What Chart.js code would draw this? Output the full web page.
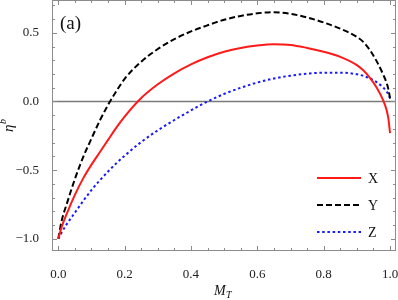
<!DOCTYPE html>
<html>
<head>
<meta charset="utf-8">
<script src="https://cdn.jsdelivr.net/npm/chart.js@4.4.1/dist/chart.umd.min.js"></script>
<style>
  html, body { margin: 0; padding: 0; background: #fff; }
  #wrap { width: 398px; height: 300px; position: relative; }
</style>
</head>
<body>
<div id="wrap"><canvas id="chart"></canvas></div>
<script>
// M_T values (x axis)
const mT = [0, 0.01, 0.025, 0.05, 0.075, 0.1, 0.125, 0.15, 0.175, 0.2, 0.25, 0.3, 0.35, 0.4, 0.45, 0.5, 0.55,
            0.6, 0.65, 0.7, 0.75, 0.8, 0.85, 0.9, 0.92, 0.94, 0.96, 0.98, 0.99, 0.995, 1.0];

const seriesX = [-1.0, -0.915, -0.82, -0.68, -0.56, -0.46, -0.37, -0.28, -0.19, -0.11, 0.025, 0.125, 0.205, 0.27, 0.322, 0.362, 0.39,
                 0.408, 0.417, 0.412, 0.39, 0.362, 0.325, 0.265, 0.225, 0.17, 0.10, 0.005, -0.065, -0.125, -0.23];
const seriesY = [-1.0, -0.87, -0.75, -0.565, -0.405, -0.27, -0.14, -0.025, 0.075, 0.165, 0.29, 0.382, 0.454, 0.51, 0.555, 0.595, 0.623,
                 0.642, 0.65, 0.638, 0.612, 0.575, 0.53, 0.47, 0.432, 0.372, 0.292, 0.193, 0.133, 0.09, 0.023];
const seriesZ = [-1.0, -0.955, -0.895, -0.81, -0.725, -0.645, -0.575, -0.51, -0.45, -0.395, -0.295, -0.21, -0.135, -0.065, 0.0, 0.055, 0.1,
                 0.138, 0.167, 0.188, 0.202, 0.21, 0.21, 0.198, 0.186, 0.167, 0.14, 0.1, 0.072, 0.052, 0.023];

const xTicks = [0, 0.2, 0.4, 0.6, 0.8, 1.0];
const yTicks = [-1.0, -0.5, 0.0, 0.5];
const legendLabels = ['X', 'Y', 'Z'];

const axisGray = '#8c8c8c';
const serif = '"Liberation Serif", "DejaVu Serif", serif';

function pairs(ys) {
    return mT.map((x, i) => ({ x: x, y: ys[i] }));
}

function fmt(v) {
    return v < 0 ? '\u2212' + Math.abs(v).toFixed(1) : v.toFixed(1);
}

// frame, inward ticks, zero line, titles and legend
const framePlugin = {
    id: 'frame',
    beforeDatasetsDraw(chart) {
        const { ctx, chartArea: a, scales: { y } } = chart;
        const y0 = y.getPixelForValue(0);
        ctx.save();
        ctx.strokeStyle = '#7a7a7a';
        ctx.lineWidth = 1.5;
        ctx.beginPath();
        ctx.moveTo(a.left, y0);
        ctx.lineTo(a.right, y0);
        ctx.stroke();
        ctx.restore();
    },
    afterDraw(chart) {
        const { ctx, chartArea: a, scales: { x, y } } = chart;
        ctx.save();
        ctx.strokeStyle = axisGray;
        ctx.lineWidth = 1;
        ctx.strokeRect(a.left + 0.5, a.top + 0.5, a.right - a.left - 1, a.bottom - a.top - 1);

        ctx.beginPath();
        for (let i = 0; i <= 20; i++) {
            const v = i * 0.05;
            const px = Math.round(x.getPixelForValue(v)) + 0.5;
            const len = i % 4 === 0 ? 5 : 3;
            ctx.moveTo(px, a.bottom); ctx.lineTo(px, a.bottom - len);
            ctx.moveTo(px, a.top); ctx.lineTo(px, a.top + len);
        }
        for (let i = -10; i <= 7; i++) {
            const v = i * 0.1;
            const py = Math.round(y.getPixelForValue(v)) + 0.5;
            const len = i % 5 === 0 ? 5 : 3;
            ctx.moveTo(a.left, py); ctx.lineTo(a.left + len, py);
            ctx.moveTo(a.right, py); ctx.lineTo(a.right - len, py);
        }
        ctx.stroke();

        // panel label
        ctx.fillStyle = '#111';
        ctx.font = '19px ' + serif;
        ctx.textBaseline = 'alphabetic';
        ctx.textAlign = 'left';
        ctx.fillText('(a)', 60, 29);

        // x title M_T
        ctx.font = 'italic 14px ' + serif;
        ctx.fillText('M', 214, 295);
        ctx.font = 'italic 10px ' + serif;
        ctx.fillText('T', 226, 298);

        // y title eta^b, rotated
        ctx.translate(13, 132);
        ctx.rotate(-Math.PI / 2);
        ctx.font = 'italic 15px ' + serif;
        ctx.fillText('\u03B7', 0, 0);
        ctx.font = 'italic 10px ' + serif;
        ctx.fillText('b', 8, -7);
        ctx.setTransform(1, 0, 0, 1, 0, 0);

        // legend
        const ds = chart.data.datasets;
        const rows = [178, 205, 232];
        ds.forEach((d, i) => {
            ctx.strokeStyle = d.borderColor;
            ctx.lineWidth = 2;
            ctx.setLineDash(d.borderDash || []);
            ctx.beginPath();
            ctx.moveTo(317, rows[i]);
            ctx.lineTo(361, rows[i]);
            ctx.stroke();
            ctx.setLineDash([]);
            ctx.fillStyle = '#111';
            ctx.font = '14px ' + serif;
            ctx.textBaseline = 'middle';
            ctx.fillText(legendLabels[i], 368, rows[i] + 1);
        });
        ctx.restore();
    }
};

new Chart(document.getElementById('chart'), {
    type: 'line',
    data: {
        datasets: [
            { label: legendLabels[0], data: pairs(seriesX), borderColor: '#ff1a1a', borderWidth: 2 },
            { label: legendLabels[1], data: pairs(seriesY), borderColor: '#000000', borderWidth: 2, borderDash: [6, 3] },
            { label: legendLabels[2], data: pairs(seriesZ), borderColor: '#1a1aff', borderWidth: 2, borderDash: [2.5, 2.7] }
        ]
    },
    options: {
        responsive: true,
        maintainAspectRatio: false,
        animation: false,
        layout: { padding: { left: 0, right: 2, top: 0, bottom: 0 } },
        elements: {
            point: { radius: 0 },
            line: { cubicInterpolationMode: 'monotone', fill: false }
        },
        plugins: { legend: { display: false }, tooltip: { enabled: false } },
        scales: {
            x: {
                type: 'linear',
                min: -0.019,
                max: 1.018,
                grid: { display: false },
                border: { display: false },
                afterBuildTicks(scale) { scale.ticks = xTicks.map(v => ({ value: v })); },
                afterFit(scale) {
                    scale.height = 49;
                    scale.paddingLeft = 0;
                    scale.paddingRight = 0;
                },
                ticks: {
                    color: '#222',
                    font: { family: serif, size: 13 },
                    padding: 8,
                    maxRotation: 0,
                    callback: v => v.toFixed(1)
                }
            },
            y: {
                type: 'linear',
                min: -1.089,
                max: 0.739,
                grid: { display: false },
                border: { display: false },
                afterBuildTicks(scale) { scale.ticks = yTicks.map(v => ({ value: v })); },
                afterFit(scale) {
                    scale.width = 52;
                    scale.paddingTop = 0;
                    scale.paddingBottom = 0;
                },
                ticks: {
                    color: '#222',
                    font: { family: serif, size: 13 },
                    padding: 5,
                    callback: v => fmt(v)
                }
            }
        }
    },
    plugins: [framePlugin]
});
</script>
</body>
</html>
